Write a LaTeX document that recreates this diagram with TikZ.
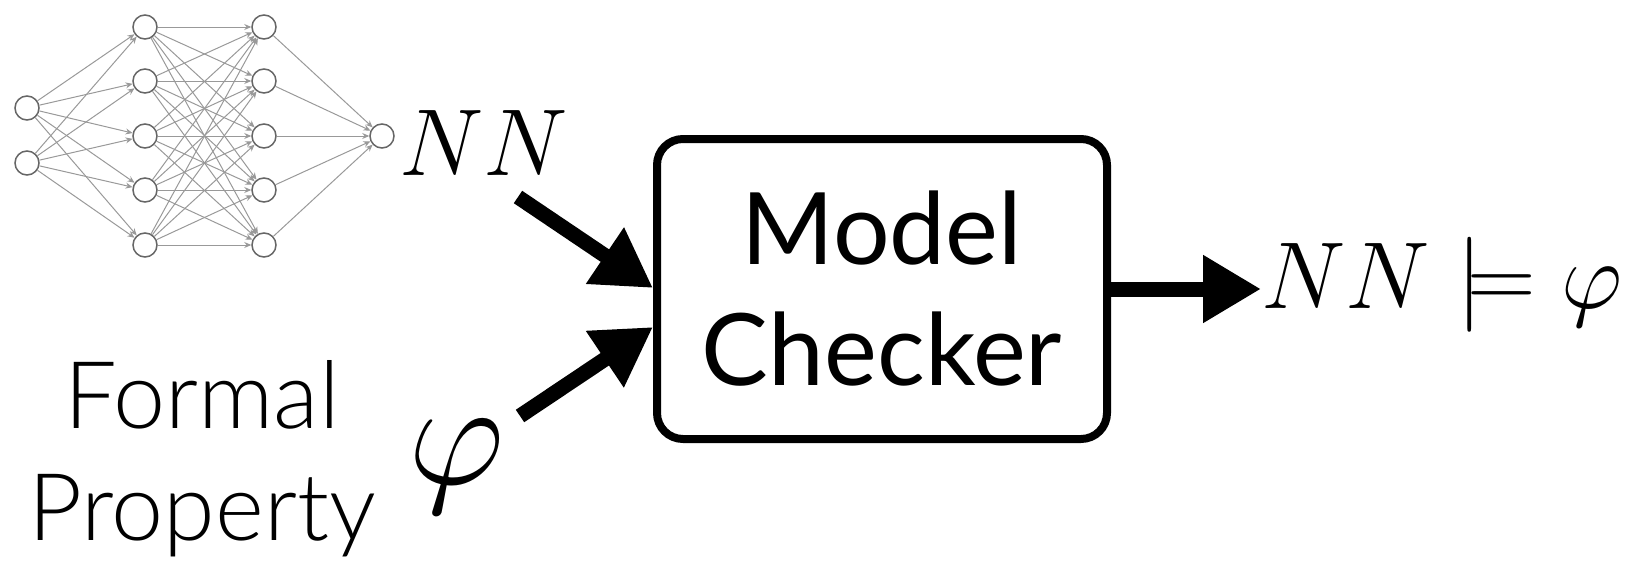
\documentclass[tikz,border=0pt]{standalone}
\usepackage{fix-cm}
\usepackage[no-math]{fontspec}
\setmainfont{Lato}
\newfontfamily\lightfont{Lato Light}
\usetikzlibrary{arrows.meta}
\begin{document}
\begin{tikzpicture}[x=0.5pt,y=-0.5pt,
  neuron/.style={circle,draw=black!60,line width=0.75pt,minimum size=12pt,inner sep=0pt,fill=white},
  synapse/.style={draw=black!40,line width=0.5pt,-{Stealth[length=3.5pt,width=3pt]}},
  bigarrow/.style={line width=7.5pt,-{Triangle[length=29pt,width=32pt]}},
  checker/.style={draw,line width=4pt,rounded corners=13pt,minimum width=225pt,minimum height=150pt,
    inner sep=0pt,align=center,font=\fontsize{50}{60.5}\selectfont},
  label/.style={inner sep=0pt,font=\fontsize{47.5}{50}\selectfont},
]
\useasboundingbox (0,0) rectangle (1640,562);
% neural network
\node[neuron] (i1) at (27,108) {};
\node[neuron] (i2) at (27,163) {};
\foreach \k/\y in {1/27,2/81,3/136,4/190,5/245}{
  \node[neuron] (a\k) at (145,\y) {};
  \node[neuron] (b\k) at (264,\y) {};
}
\node[neuron] (o) at (382,136) {};
\foreach \i in {1,2}{\foreach \j in {1,...,5}{\draw[synapse] (i\i) -- (a\j);}}
\foreach \i in {1,...,5}{\foreach \j in {1,...,5}{\draw[synapse] (a\i) -- (b\j);}}
\foreach \i in {1,...,5}{\draw[synapse] (b\i) -- (o);}
% labels
\node[label,anchor=base west] (nn) at (399,175) {$NN$};
\node[inner sep=0pt,font=\fontsize{75}{80}\selectfont] (phi) at (457,467) {$\varphi$};
\node[inner sep=0pt,align=center,font=\lightfont\fontsize{46.75}{56}\selectfont] (fp) at (202,459) {Formal\\Property};
% model checker
\node[checker] (box) at (882,289) {Model\\Checker};
\node[label,anchor=base west] (res) at (1261,308) {$NN\models\varphi$};
% connectors
\coordinate (nnstart) at (518,197);
\coordinate (phistart) at (520,416);
\draw[bigarrow] (nnstart) -- ([yshift=0.5pt]box.west);
\draw[bigarrow] (phistart) -- ([yshift=-19pt]box.west);
\draw[bigarrow] (box.east) -- (box.east -| res.west);
\end{tikzpicture}
\end{document}
